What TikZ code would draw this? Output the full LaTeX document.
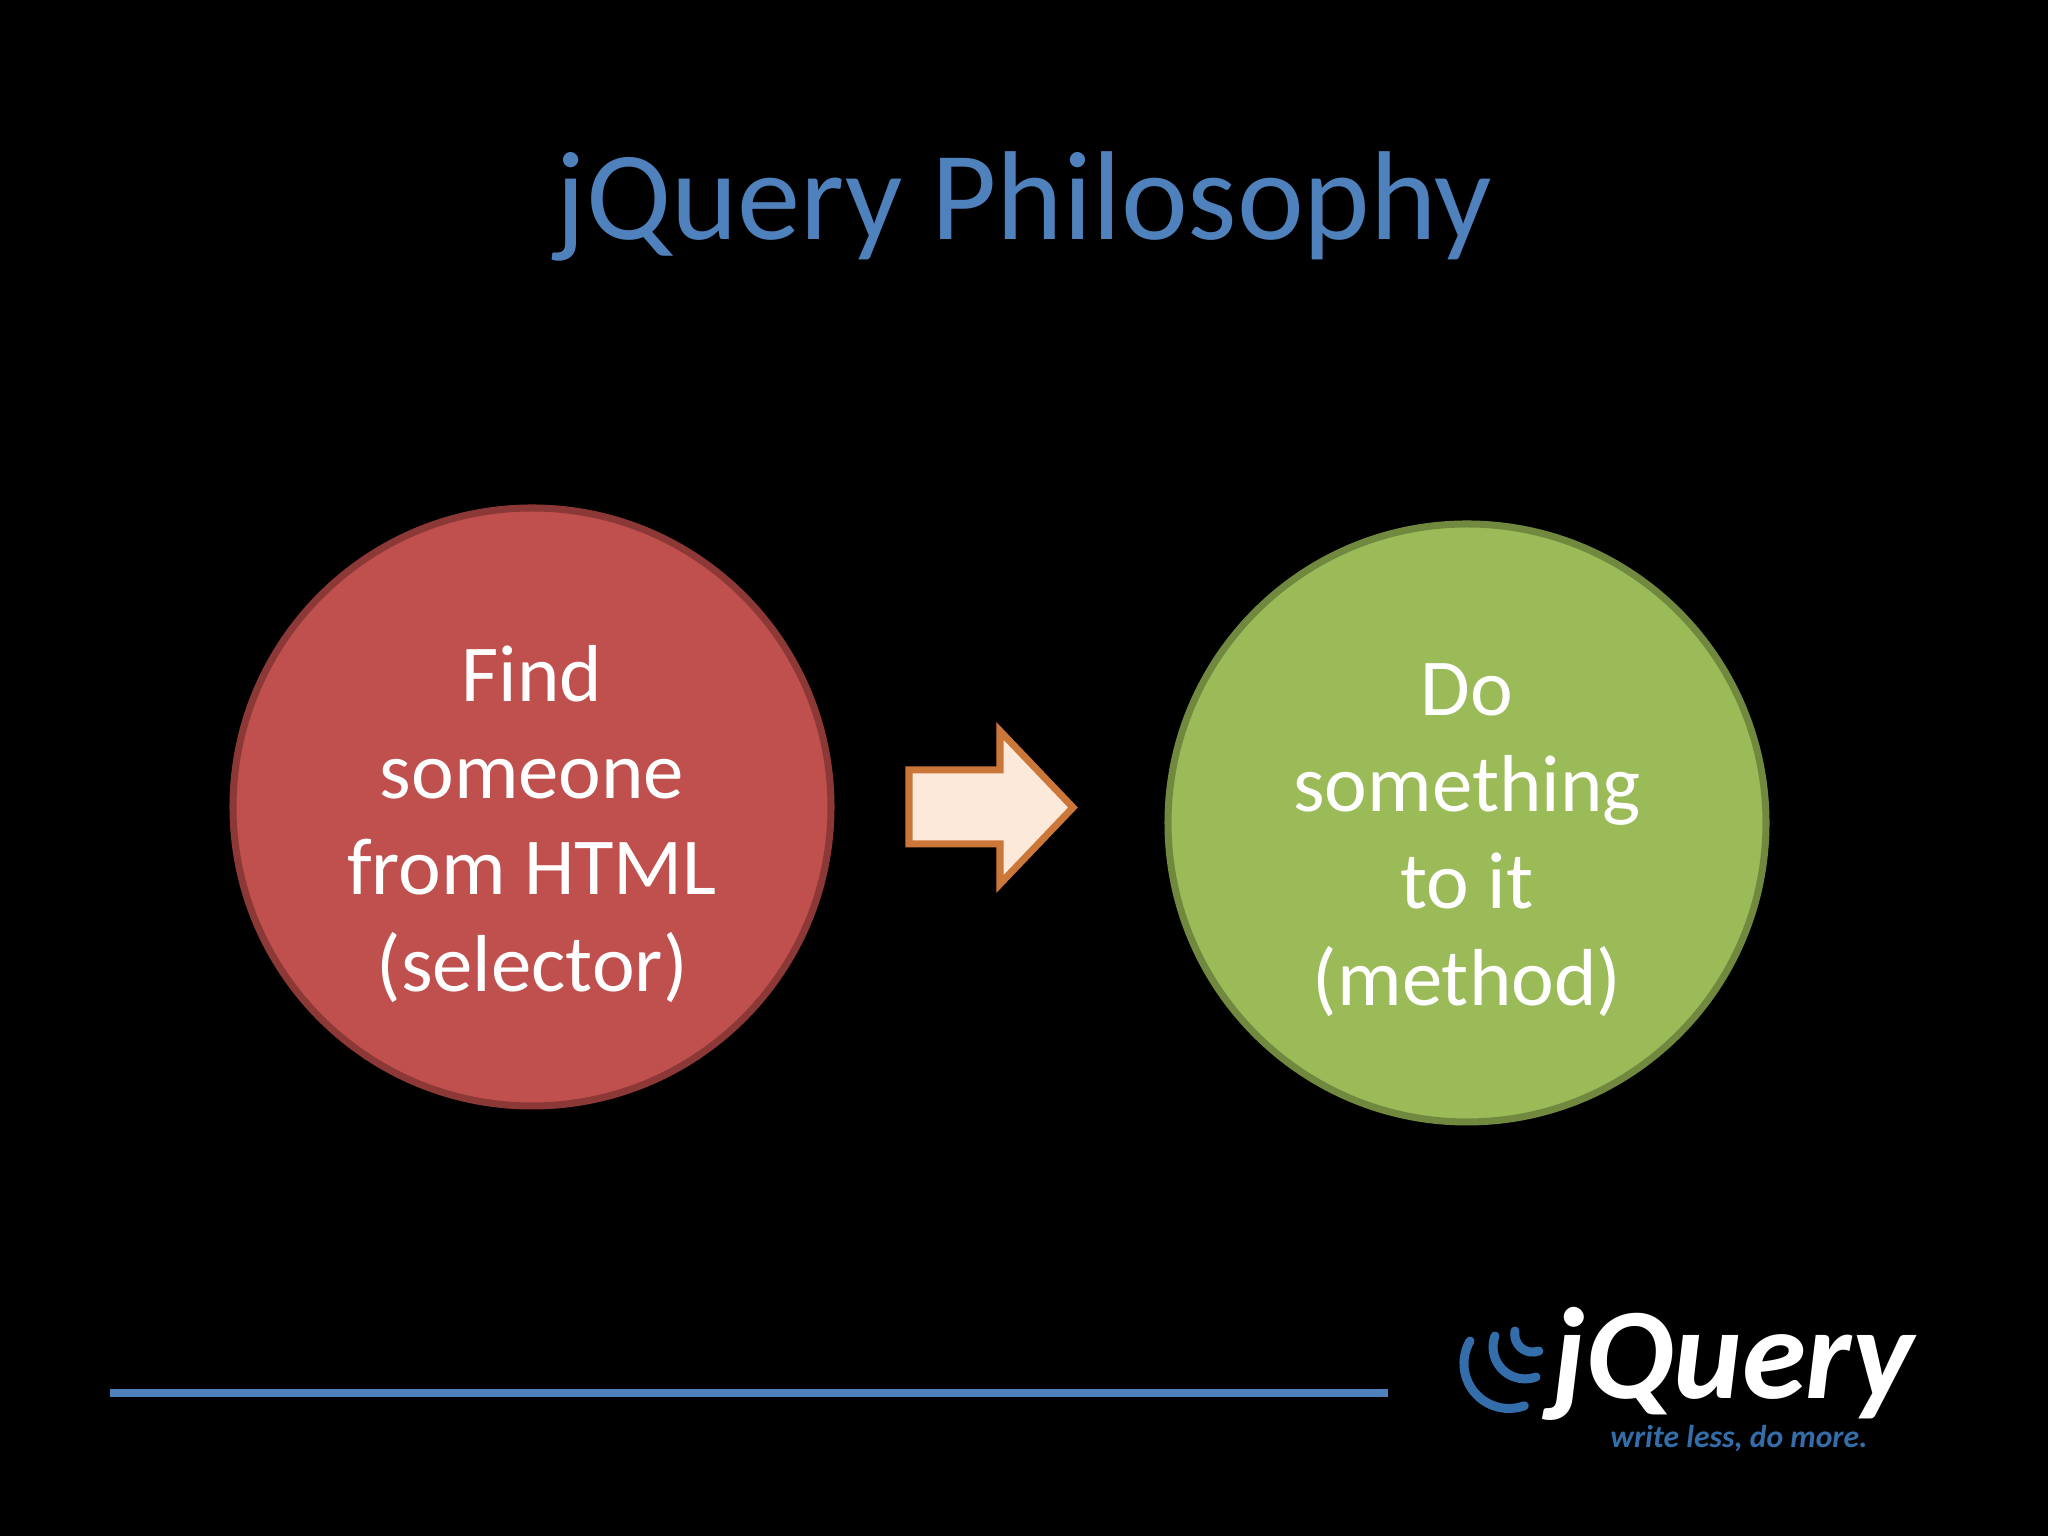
\documentclass[tikz,border=0pt]{standalone}
\usepackage{fontspec}
\setmainfont{Carlito}
\definecolor{jblue}{RGB}{79,129,189}
\definecolor{lblue}{RGB}{52,110,170}
\definecolor{cred}{RGB}{192,80,77}
\definecolor{dred}{RGB}{140,56,54}
\definecolor{cgreen}{RGB}{155,187,89}
\definecolor{dgreen}{RGB}{113,137,63}
\definecolor{peach}{RGB}{253,233,217}
\definecolor{orng}{RGB}{204,119,58}
\begin{document}
\begin{tikzpicture}
\useasboundingbox[fill=black] (0,0) rectangle (20.48,15.36);
\tikzset{circ/.style={circle,minimum size=5.98cm,inner sep=0pt,line width=2pt},
 ctext/.style={align=center,text=white,font=\fontsize{23}{27.5}\selectfont}}
\node[text=jblue,font=\fontsize{36}{40}\selectfont] (title) at (10.24,13.3) {jQuery Philosophy};
\node[circ,fill=cred,draw=dred] (find) at (5.32,7.29) {};
\node[ctext] (findt) at ([yshift=-0.17cm]find.center) {Find\\someone\\from HTML\\(selector)};
\node[circ,fill=cgreen,draw=dgreen] (do) at (14.67,7.13) {};
\node[ctext] (dot) at ([yshift=-0.17cm]do.center) {Do\\something\\to it\\(method)};
\draw[fill=peach,draw=orng,line width=2pt,line join=miter]
 (9.09,7.66) -- (10.0,7.66) -- (10.0,8.05) -- (10.73,7.285) -- (10.0,6.52) -- (10.0,6.92) -- (9.09,6.92) -- cycle;
\coordinate (l1) at (1.10,1.43); \coordinate (l2) at (13.88,1.43);
\draw[jblue,line width=0.08cm] (l1) -- (l2);
\begin{scope}[lblue,line width=0.09cm,line cap=round]
\draw (14.7,1.95) arc[start angle=150,end angle=290,radius=0.45];
\draw (14.95,2.0) arc[start angle=160,end angle=290,radius=0.32];
\draw (15.15,2.05) arc[start angle=170,end angle=290,radius=0.18];
\end{scope}
\node[text=white,font=\bfseries\itshape\fontsize{37}{37}\selectfont,anchor=west] (logo) at (15.4,1.72) {jQuery};
\node[text=lblue,font=\bfseries\itshape\fontsize{9}{9}\selectfont,anchor=east] (tag) at (18.8,0.97) {write less, do more.};
\end{tikzpicture}
\end{document}
